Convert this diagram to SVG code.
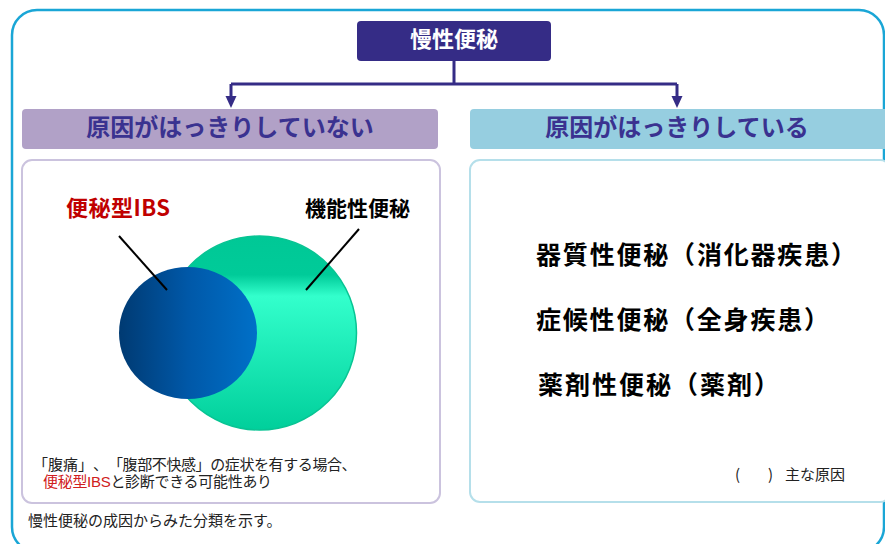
<svg xmlns="http://www.w3.org/2000/svg" width="885" height="544" viewBox="0 0 885 544">
<defs>
<style>
.jp{font-family:"Noto Sans CJK JP","Noto Sans",sans-serif;text-spacing-trim:space-all;}
.jl{font-family:"Liberation Sans","Noto Sans CJK JP",sans-serif;text-spacing-trim:space-all;}
.b{font-weight:bold;}
.hd{font-size:24px;fill:#3a3290;text-anchor:middle;font-weight:bold;}
.lst{font-size:25px;fill:#000;font-weight:bold;}
.sm{font-size:15px;fill:#222;}
.conn{fill:none;stroke:#352c86;stroke-width:3;}
.lead{stroke:#000;stroke-width:2;}
</style>
<linearGradient id="gGreen" x1="0" y1="0" x2="0" y2="1">
<stop offset="0" stop-color="#00c896"/>
<stop offset="0.2" stop-color="#00cb99"/>
<stop offset="0.31" stop-color="#33ffcc"/>
<stop offset="1" stop-color="#00cf9b"/>
</linearGradient>
<linearGradient id="gBlue" x1="0" y1="0" x2="1" y2="0">
<stop offset="0" stop-color="#003a72"/>
<stop offset="0.5" stop-color="#0058a8"/>
<stop offset="1" stop-color="#0070c8"/>
</linearGradient>
</defs>
<rect x="0" y="0" width="885" height="544" fill="#fff"/>
<g id="frame">
<rect x="12" y="10" width="872" height="542" rx="25" ry="25" fill="none" stroke="#1aa6d6" stroke-width="2.5"/>
</g>
<g id="connectors">
<path class="conn" d="M454,61 V84 M231,84 H677"/>
<line class="conn" x1="231" y1="84" x2="231" y2="98"/>
<path d="M225.5,96 L236.5,96 L231,108 Z" fill="#352c86"/>
<line class="conn" x1="677" y1="84" x2="677" y2="98"/>
<path d="M671.5,96 L682.5,96 L677,108 Z" fill="#352c86"/>
</g>
<g id="root">
<rect x="357" y="21" width="194" height="40" rx="4" fill="#352c86"/>
<text class="jp b" x="454" y="47" font-size="22" fill="#fff" text-anchor="middle">慢性便秘</text>
</g>
<g id="unknown-cause">
<rect x="22" y="109" width="416" height="40" rx="4" fill="#b1a1c7"/>
<text class="jp hd" x="230" y="136">原因がはっきりしていない</text>
</g>
<g id="known-cause">
<rect x="470" y="109" width="420" height="40" rx="4" fill="#96cee0"/>
<text class="jp hd" x="677" y="136">原因がはっきりしている</text>
</g>
<g id="left-panel">
<rect x="22" y="160" width="418" height="343" rx="10" fill="#fff" stroke="#cbc3de" stroke-width="2"/>
<circle cx="259.5" cy="333" r="97" fill="url(#gGreen)" stroke="#08c493" stroke-width="1.5"/>
<ellipse cx="188" cy="333" rx="69" ry="66" fill="url(#gBlue)"/>
<line class="lead" x1="119" y1="236" x2="167" y2="290"/>
<line class="lead" x1="359" y1="229" x2="306" y2="290"/>
<text class="jp b" x="66" y="216" font-size="22" fill="#c00000" textLength="104" lengthAdjust="spacing">便秘型IBS</text>
<text class="jp b" x="305" y="216" font-size="21" fill="#000">機能性便秘</text>
<text class="jl sm"><tspan x="33" y="470">「腹痛」</tspan><tspan x="93" y="470">、</tspan><tspan x="108" y="470" letter-spacing="-0.4">「腹部不快感」の症状を有する場合、</tspan><tspan x="43" y="487" letter-spacing="-0.3" fill="#d02020">便秘型IBS</tspan><tspan letter-spacing="-0.3">と診断できる可能性あり</tspan></text>
</g>
<g id="right-panel">
<rect x="470" y="160" width="420" height="342" rx="10" fill="#fff" stroke="#b5dfea" stroke-width="2"/>
<text class="jp lst" x="536" y="264" textLength="320" lengthAdjust="spacing">器質性便秘（消化器疾患）</text>
<text class="jp lst" x="536" y="329" textLength="293" lengthAdjust="spacing">症候性便秘（全身疾患）</text>
<text class="jp lst" x="538" y="394" textLength="241" lengthAdjust="spacing">薬剤性便秘（薬剤）</text>
<text class="jp sm" x="735" y="480">(<tspan x="768">)</tspan><tspan x="785">主な原因</tspan></text>
</g>
<g id="footer">
<text class="jp sm" x="28" y="526">慢性便秘の成因からみた分類を示す。</text>
</g>
</svg>
